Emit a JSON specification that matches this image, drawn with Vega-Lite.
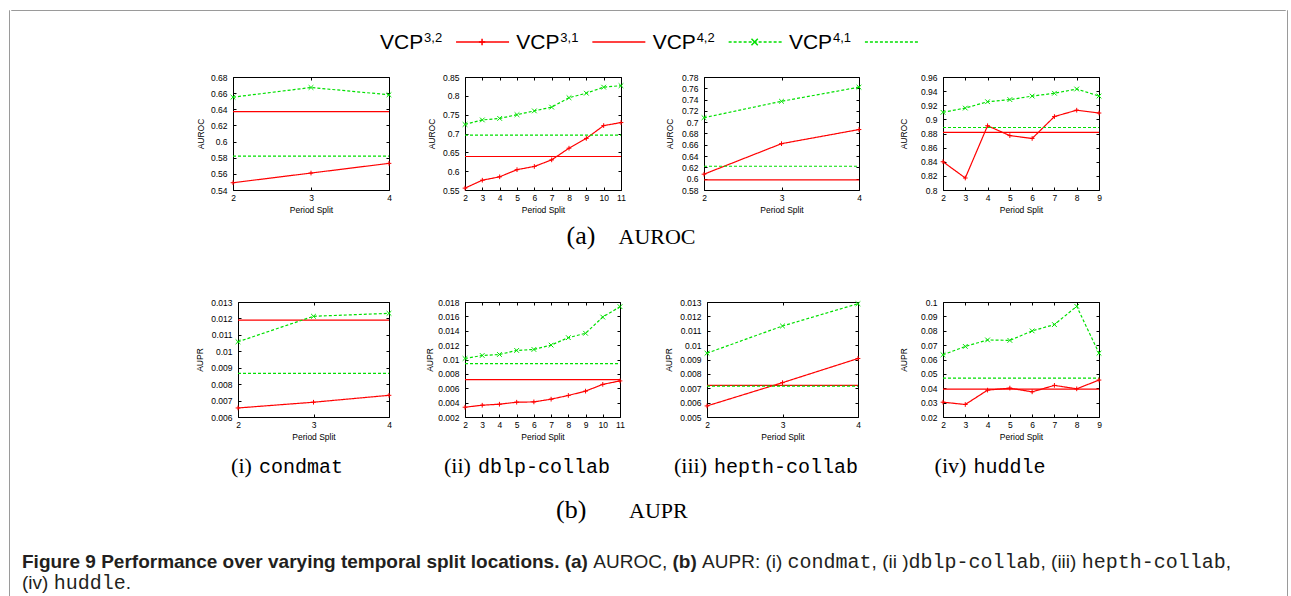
{
"$schema": "https://vega.github.io/schema/vega-lite/v6.json",
"background": "white",
"padding": {"left": 8, "top": 9, "right": 7, "bottom": 0},
"spacing": 0,
"config": {
  "view": {"stroke": null},
  "numberFormat": "~g",
  "axis": {"domain": false, "grid": false, "ticks": true, "tickColor": "#000", "tickSize": -3, "tickWidth": 1, "labelFont": "Liberation Sans", "labelFontSize": 8.5, "labelColor": "#000", "titleFont": "Liberation Sans", "titleFontSize": 8.5, "titleFontWeight": "normal", "titleColor": "#000", "labelOverlap": false, "labelFlush": false},
  "axisX": {"labelPadding": 6, "titlePadding": 4},
  "axisY": {"labelPadding": 9}
},
"datasets": {"d": [
{"p":"a1","series":"VCP32","s":2,"v":0.549},{"p":"a1","series":"VCP32","s":3,"v":0.561},{"p":"a1","series":"VCP32","s":4,"v":0.573},
{"p":"a1","series":"VCP31","s":2,"v":0.637},{"p":"a1","series":"VCP31","s":4,"v":0.637},
{"p":"a1","series":"VCP42","s":2,"v":0.655},{"p":"a1","series":"VCP42","s":3,"v":0.667},{"p":"a1","series":"VCP42","s":4,"v":0.658},
{"p":"a1","series":"VCP41","s":2,"v":0.582},{"p":"a1","series":"VCP41","s":4,"v":0.582},

{"p":"a2","series":"VCP32","s":2,"v":0.555},{"p":"a2","series":"VCP32","s":3,"v":0.576},{"p":"a2","series":"VCP32","s":4,"v":0.585},{"p":"a2","series":"VCP32","s":5,"v":0.604},{"p":"a2","series":"VCP32","s":6,"v":0.6125},{"p":"a2","series":"VCP32","s":7,"v":0.63},{"p":"a2","series":"VCP32","s":8,"v":0.661},{"p":"a2","series":"VCP32","s":9,"v":0.687},{"p":"a2","series":"VCP32","s":10,"v":0.721},{"p":"a2","series":"VCP32","s":11,"v":0.729},
{"p":"a2","series":"VCP31","s":2,"v":0.639},{"p":"a2","series":"VCP31","s":11,"v":0.639},
{"p":"a2","series":"VCP42","s":2,"v":0.724},{"p":"a2","series":"VCP42","s":3,"v":0.736},{"p":"a2","series":"VCP42","s":4,"v":0.74},{"p":"a2","series":"VCP42","s":5,"v":0.75},{"p":"a2","series":"VCP42","s":6,"v":0.76},{"p":"a2","series":"VCP42","s":7,"v":0.77},{"p":"a2","series":"VCP42","s":8,"v":0.795},{"p":"a2","series":"VCP42","s":9,"v":0.807},{"p":"a2","series":"VCP42","s":10,"v":0.823},{"p":"a2","series":"VCP42","s":11,"v":0.827},
{"p":"a2","series":"VCP41","s":2,"v":0.6955},{"p":"a2","series":"VCP41","s":11,"v":0.6955},

{"p":"a3","series":"VCP32","s":2,"v":0.608},{"p":"a3","series":"VCP32","s":3,"v":0.662},{"p":"a3","series":"VCP32","s":4,"v":0.687},
{"p":"a3","series":"VCP31","s":2,"v":0.598},{"p":"a3","series":"VCP31","s":4,"v":0.598},
{"p":"a3","series":"VCP42","s":2,"v":0.708},{"p":"a3","series":"VCP42","s":3,"v":0.737},{"p":"a3","series":"VCP42","s":4,"v":0.762},
{"p":"a3","series":"VCP41","s":2,"v":0.622},{"p":"a3","series":"VCP41","s":4,"v":0.622},

{"p":"a4","series":"VCP32","s":2,"v":0.84},{"p":"a4","series":"VCP32","s":3,"v":0.817},{"p":"a4","series":"VCP32","s":4,"v":0.891},{"p":"a4","series":"VCP32","s":5,"v":0.877},{"p":"a4","series":"VCP32","s":6,"v":0.873},{"p":"a4","series":"VCP32","s":7,"v":0.904},{"p":"a4","series":"VCP32","s":8,"v":0.913},{"p":"a4","series":"VCP32","s":9,"v":0.909},
{"p":"a4","series":"VCP31","s":2,"v":0.8815},{"p":"a4","series":"VCP31","s":9,"v":0.8815},
{"p":"a4","series":"VCP42","s":2,"v":0.91},{"p":"a4","series":"VCP42","s":3,"v":0.916},{"p":"a4","series":"VCP42","s":4,"v":0.925},{"p":"a4","series":"VCP42","s":5,"v":0.928},{"p":"a4","series":"VCP42","s":6,"v":0.933},{"p":"a4","series":"VCP42","s":7,"v":0.937},{"p":"a4","series":"VCP42","s":8,"v":0.943},{"p":"a4","series":"VCP42","s":9,"v":0.933},
{"p":"a4","series":"VCP41","s":2,"v":0.8885},{"p":"a4","series":"VCP41","s":9,"v":0.8885},

{"p":"b1","series":"VCP32","s":2,"v":0.00655},{"p":"b1","series":"VCP32","s":3,"v":0.0069},{"p":"b1","series":"VCP32","s":4,"v":0.00732},
{"p":"b1","series":"VCP31","s":2,"v":0.0119},{"p":"b1","series":"VCP31","s":4,"v":0.0119},
{"p":"b1","series":"VCP42","s":2,"v":0.01058},{"p":"b1","series":"VCP42","s":3,"v":0.01213},{"p":"b1","series":"VCP42","s":4,"v":0.01231},
{"p":"b1","series":"VCP41","s":2,"v":0.00865},{"p":"b1","series":"VCP41","s":4,"v":0.00865},

{"p":"b2","series":"VCP32","s":2,"v":0.00336},{"p":"b2","series":"VCP32","s":3,"v":0.00364},{"p":"b2","series":"VCP32","s":4,"v":0.00378},{"p":"b2","series":"VCP32","s":5,"v":0.00406},{"p":"b2","series":"VCP32","s":6,"v":0.0041},{"p":"b2","series":"VCP32","s":7,"v":0.00448},{"p":"b2","series":"VCP32","s":8,"v":0.005},{"p":"b2","series":"VCP32","s":9,"v":0.0056},{"p":"b2","series":"VCP32","s":10,"v":0.00654},{"p":"b2","series":"VCP32","s":11,"v":0.00702},
{"p":"b2","series":"VCP31","s":2,"v":0.0072},{"p":"b2","series":"VCP31","s":11,"v":0.0072},
{"p":"b2","series":"VCP42","s":2,"v":0.01014},{"p":"b2","series":"VCP42","s":3,"v":0.01056},{"p":"b2","series":"VCP42","s":4,"v":0.0107},{"p":"b2","series":"VCP42","s":5,"v":0.01126},{"p":"b2","series":"VCP42","s":6,"v":0.0114},{"p":"b2","series":"VCP42","s":7,"v":0.012},{"p":"b2","series":"VCP42","s":8,"v":0.01304},{"p":"b2","series":"VCP42","s":9,"v":0.01365},{"p":"b2","series":"VCP42","s":10,"v":0.0159},{"p":"b2","series":"VCP42","s":11,"v":0.01735},
{"p":"b2","series":"VCP41","s":2,"v":0.00944},{"p":"b2","series":"VCP41","s":11,"v":0.00944},

{"p":"b3","series":"VCP32","s":2,"v":0.00577},{"p":"b3","series":"VCP32","s":3,"v":0.00739},{"p":"b3","series":"VCP32","s":4,"v":0.00907},
{"p":"b3","series":"VCP31","s":2,"v":0.0072},{"p":"b3","series":"VCP31","s":4,"v":0.0072},
{"p":"b3","series":"VCP42","s":2,"v":0.00944},{"p":"b3","series":"VCP42","s":3,"v":0.01133},{"p":"b3","series":"VCP42","s":4,"v":0.01288},
{"p":"b3","series":"VCP41","s":2,"v":0.00715},{"p":"b3","series":"VCP41","s":4,"v":0.00715},

{"p":"b4","series":"VCP32","s":2,"v":0.0303},{"p":"b4","series":"VCP32","s":3,"v":0.0287},{"p":"b4","series":"VCP32","s":4,"v":0.0387},{"p":"b4","series":"VCP32","s":5,"v":0.0401},{"p":"b4","series":"VCP32","s":6,"v":0.0375},{"p":"b4","series":"VCP32","s":7,"v":0.042},{"p":"b4","series":"VCP32","s":8,"v":0.0396},{"p":"b4","series":"VCP32","s":9,"v":0.0457},
{"p":"b4","series":"VCP31","s":2,"v":0.0394},{"p":"b4","series":"VCP31","s":9,"v":0.0394},
{"p":"b4","series":"VCP42","s":2,"v":0.0633},{"p":"b4","series":"VCP42","s":3,"v":0.0691},{"p":"b4","series":"VCP42","s":4,"v":0.0736},{"p":"b4","series":"VCP42","s":5,"v":0.0733},{"p":"b4","series":"VCP42","s":6,"v":0.0799},{"p":"b4","series":"VCP42","s":7,"v":0.0843},{"p":"b4","series":"VCP42","s":8,"v":0.097},{"p":"b4","series":"VCP42","s":9,"v":0.0644},
{"p":"b4","series":"VCP41","s":2,"v":0.0471},{"p":"b4","series":"VCP41","s":9,"v":0.0471}
]},
"hconcat": [
{"width": 0.01, "height": 587, "view": {"stroke": "#9a9a9a", "strokeWidth": 1}, "data": {"values": []}, "mark": "text", "encoding": {"text": {"field": "t", "type": "nominal"}}},
{"spacing": 0, "vconcat": [
{"width": 1274, "height": 0.01, "view": {"stroke": "#9a9a9a", "strokeWidth": 1}, "data": {"values": []}, "mark": "text", "encoding": {"text": {"field": "t", "type": "nominal"}}},
{"width": 1274, "height": 61,
 "data": {"values": [{"k":0,"name":"VCP","sup":"3,2","series":"VCP32"},{"k":1,"name":"VCP","sup":"3,1","series":"VCP31"},{"k":2,"name":"VCP","sup":"4,2","series":"VCP42"},{"k":3,"name":"VCP","sup":"4,1","series":"VCP41"}]},
 "encoding": {"x": {"field": "k", "type": "quantitative", "scale": {"domain": [-2.708, 6.64], "nice": false, "zero": false}, "axis": null}},
 "layer": [
  {"mark": {"type": "text", "align": "left", "baseline": "alphabetic", "dy": 7.5, "font": "Liberation Sans", "fontSize": 21, "color": "#000"}, "encoding": {"text": {"field": "name"}}},
  {"mark": {"type": "text", "align": "left", "baseline": "alphabetic", "dx": 44, "dy": 0.5, "font": "Liberation Sans", "fontSize": 13, "color": "#000"}, "encoding": {"text": {"field": "sup"}}},
  {"mark": {"type": "rule", "xOffset": 76, "x2Offset": 129, "yOffset": 0.5, "strokeWidth": 1.3}, "encoding": {"x2": {"field": "k"},
    "color": {"field": "series", "type": "nominal", "scale": {"domain": ["VCP32","VCP31","VCP42","VCP41"], "range": ["#ff0000","#ff0000","#00e000","#00e000"]}, "legend": null},
    "strokeDash": {"field": "series", "type": "nominal", "scale": {"domain": ["VCP32","VCP31","VCP42","VCP41"], "range": [[1,0],[1,0],[3,2],[3,2]]}, "legend": null}}},
  {"transform": [{"filter": "datum.series === 'VCP32' || datum.series === 'VCP42'"}],
   "mark": {"type": "point", "filled": false, "size": 40, "strokeWidth": 1.5, "opacity": 1, "xOffset": 102, "yOffset": 0.5},
   "encoding": {"color": {"field": "series", "type": "nominal", "scale": {"domain": ["VCP32","VCP31","VCP42","VCP41"], "range": ["#ff0000","#ff0000","#00e000","#00e000"]}, "legend": null},
     "shape": {"field": "series", "type": "nominal", "scale": {"domain": ["VCP32","VCP42"], "range": ["M-1,0L1,0M0,-1L0,1","M-1,-1L1,1M-1,1L1,-1"]}, "legend": null}}}
 ]},
{"spacing": 0, "hconcat": [
 {"width": 183.75, "height": 1, "data": {"values": []}, "mark": "text", "encoding": {"text": {"field": "t", "type": "nominal"}}},
 {"width": 156, "height": 113, "view": {"stroke": "#000", "strokeWidth": 1}, "data": {"name": "d"}, "transform": [{"filter": "datum.p === 'a1'"}],
  "layer": [
   {"mark": {"type": "line", "strokeWidth": 1.2}, "encoding": {
     "x": {"field": "s", "type": "quantitative", "scale": {"domain": [2,4], "nice": false, "zero": false}, "axis": {"values": [2,3,4], "title": "Period Split"}},
     "y": {"field": "v", "type": "quantitative", "scale": {"domain": [0.54,0.68], "nice": false, "zero": false}, "axis": {"values": [0.54,0.56,0.58,0.6,0.62,0.64,0.66,0.68], "title": "AUROC", "titlePadding": 5}},
     "color": {"field": "series", "type": "nominal", "scale": {"domain": ["VCP32","VCP31","VCP42","VCP41"], "range": ["#ff0000","#ff0000","#00e000","#00e000"]}, "legend": null},
     "strokeDash": {"field": "series", "type": "nominal", "scale": {"domain": ["VCP32","VCP31","VCP42","VCP41"], "range": [[1,0],[1,0],[3,2],[3,2]]}, "legend": null}}},
   {"transform": [{"filter": "datum.series === 'VCP32' || datum.series === 'VCP42'"}], "mark": {"type": "point", "filled": false, "size": 22, "strokeWidth": 1, "opacity": 1}, "encoding": {
     "x": {"field": "s", "type": "quantitative", "axis": {"orient": "top", "values": [2,3,4], "labels": false, "title": null}},
     "y": {"field": "v", "type": "quantitative", "axis": {"orient": "right", "values": [0.54,0.56,0.58,0.6,0.62,0.64,0.66,0.68], "labels": false, "title": null}},
     "color": {"field": "series", "type": "nominal", "scale": {"domain": ["VCP32","VCP31","VCP42","VCP41"], "range": ["#ff0000","#ff0000","#00e000","#00e000"]}, "legend": null},
     "shape": {"field": "series", "type": "nominal", "scale": {"domain": ["VCP32","VCP42"], "range": ["M-1,0L1,0M0,-1L0,1","M-1,-1L1,1M-1,1L1,-1"]}, "legend": null}}}
  ], "resolve": {"axis": {"x": "independent", "y": "independent"}}},
 {"width": 31.35, "height": 1, "data": {"values": []}, "mark": "text", "encoding": {"text": {"field": "t", "type": "nominal"}}},
 {"width": 156, "height": 113, "view": {"stroke": "#000", "strokeWidth": 1}, "data": {"name": "d"}, "transform": [{"filter": "datum.p === 'a2'"}],
  "layer": [
   {"mark": {"type": "line", "strokeWidth": 1.2}, "encoding": {
     "x": {"field": "s", "type": "quantitative", "scale": {"domain": [2,11], "nice": false, "zero": false}, "axis": {"values": [2,3,4,5,6,7,8,9,10,11], "title": "Period Split"}},
     "y": {"field": "v", "type": "quantitative", "scale": {"domain": [0.55,0.85], "nice": false, "zero": false}, "axis": {"values": [0.55,0.6,0.65,0.7,0.75,0.8,0.85], "title": "AUROC", "titlePadding": 6}},
     "color": {"field": "series", "type": "nominal", "scale": {"domain": ["VCP32","VCP31","VCP42","VCP41"], "range": ["#ff0000","#ff0000","#00e000","#00e000"]}, "legend": null},
     "strokeDash": {"field": "series", "type": "nominal", "scale": {"domain": ["VCP32","VCP31","VCP42","VCP41"], "range": [[1,0],[1,0],[3,2],[3,2]]}, "legend": null}}},
   {"transform": [{"filter": "datum.series === 'VCP32' || datum.series === 'VCP42'"}], "mark": {"type": "point", "filled": false, "size": 22, "strokeWidth": 1, "opacity": 1}, "encoding": {
     "x": {"field": "s", "type": "quantitative", "axis": {"orient": "top", "values": [2,3,4,5,6,7,8,9,10,11], "labels": false, "title": null}},
     "y": {"field": "v", "type": "quantitative", "axis": {"orient": "right", "values": [0.55,0.6,0.65,0.7,0.75,0.8,0.85], "labels": false, "title": null}},
     "color": {"field": "series", "type": "nominal", "scale": {"domain": ["VCP32","VCP31","VCP42","VCP41"], "range": ["#ff0000","#ff0000","#00e000","#00e000"]}, "legend": null},
     "shape": {"field": "series", "type": "nominal", "scale": {"domain": ["VCP32","VCP42"], "range": ["M-1,0L1,0M0,-1L0,1","M-1,-1L1,1M-1,1L1,-1"]}, "legend": null}}}
  ], "resolve": {"axis": {"x": "independent", "y": "independent"}}},
 {"width": 38.8, "height": 1, "data": {"values": []}, "mark": "text", "encoding": {"text": {"field": "t", "type": "nominal"}}},
 {"width": 155, "height": 113, "view": {"stroke": "#000", "strokeWidth": 1}, "data": {"name": "d"}, "transform": [{"filter": "datum.p === 'a3'"}],
  "layer": [
   {"mark": {"type": "line", "strokeWidth": 1.2}, "encoding": {
     "x": {"field": "s", "type": "quantitative", "scale": {"domain": [2,4], "nice": false, "zero": false}, "axis": {"values": [2,3,4], "title": "Period Split"}},
     "y": {"field": "v", "type": "quantitative", "scale": {"domain": [0.58,0.78], "nice": false, "zero": false}, "axis": {"values": [0.58,0.6,0.62,0.64,0.66,0.68,0.7,0.72,0.74,0.76,0.78], "title": "AUROC", "titlePadding": 6.5}},
     "color": {"field": "series", "type": "nominal", "scale": {"domain": ["VCP32","VCP31","VCP42","VCP41"], "range": ["#ff0000","#ff0000","#00e000","#00e000"]}, "legend": null},
     "strokeDash": {"field": "series", "type": "nominal", "scale": {"domain": ["VCP32","VCP31","VCP42","VCP41"], "range": [[1,0],[1,0],[3,2],[3,2]]}, "legend": null}}},
   {"transform": [{"filter": "datum.series === 'VCP32' || datum.series === 'VCP42'"}], "mark": {"type": "point", "filled": false, "size": 22, "strokeWidth": 1, "opacity": 1}, "encoding": {
     "x": {"field": "s", "type": "quantitative", "axis": {"orient": "top", "values": [2,3,4], "labels": false, "title": null}},
     "y": {"field": "v", "type": "quantitative", "axis": {"orient": "right", "values": [0.58,0.6,0.62,0.64,0.66,0.68,0.7,0.72,0.74,0.76,0.78], "labels": false, "title": null}},
     "color": {"field": "series", "type": "nominal", "scale": {"domain": ["VCP32","VCP31","VCP42","VCP41"], "range": ["#ff0000","#ff0000","#00e000","#00e000"]}, "legend": null},
     "shape": {"field": "series", "type": "nominal", "scale": {"domain": ["VCP32","VCP42"], "range": ["M-1,0L1,0M0,-1L0,1","M-1,-1L1,1M-1,1L1,-1"]}, "legend": null}}}
  ], "resolve": {"axis": {"x": "independent", "y": "independent"}}},
 {"width": 33.85, "height": 1, "data": {"values": []}, "mark": "text", "encoding": {"text": {"field": "t", "type": "nominal"}}},
 {"width": 156, "height": 113, "view": {"stroke": "#000", "strokeWidth": 1}, "data": {"name": "d"}, "transform": [{"filter": "datum.p === 'a4'"}],
  "layer": [
   {"mark": {"type": "line", "strokeWidth": 1.2}, "encoding": {
     "x": {"field": "s", "type": "quantitative", "scale": {"domain": [2,9], "nice": false, "zero": false}, "axis": {"values": [2,3,4,5,6,7,8,9], "title": "Period Split"}},
     "y": {"field": "v", "type": "quantitative", "scale": {"domain": [0.8,0.96], "nice": false, "zero": false}, "axis": {"values": [0.8,0.82,0.84,0.86,0.88,0.9,0.92,0.94,0.96], "title": "AUROC", "titlePadding": 12}},
     "color": {"field": "series", "type": "nominal", "scale": {"domain": ["VCP32","VCP31","VCP42","VCP41"], "range": ["#ff0000","#ff0000","#00e000","#00e000"]}, "legend": null},
     "strokeDash": {"field": "series", "type": "nominal", "scale": {"domain": ["VCP32","VCP31","VCP42","VCP41"], "range": [[1,0],[1,0],[3,2],[3,2]]}, "legend": null}}},
   {"transform": [{"filter": "datum.series === 'VCP32' || datum.series === 'VCP42'"}], "mark": {"type": "point", "filled": false, "size": 22, "strokeWidth": 1, "opacity": 1}, "encoding": {
     "x": {"field": "s", "type": "quantitative", "axis": {"orient": "top", "values": [2,3,4,5,6,7,8,9], "labels": false, "title": null}},
     "y": {"field": "v", "type": "quantitative", "axis": {"orient": "right", "values": [0.8,0.82,0.84,0.86,0.88,0.9,0.92,0.94,0.96], "labels": false, "title": null}},
     "color": {"field": "series", "type": "nominal", "scale": {"domain": ["VCP32","VCP31","VCP42","VCP41"], "range": ["#ff0000","#ff0000","#00e000","#00e000"]}, "legend": null},
     "shape": {"field": "series", "type": "nominal", "scale": {"domain": ["VCP32","VCP42"], "range": ["M-1,0L1,0M0,-1L0,1","M-1,-1L1,1M-1,1L1,-1"]}, "legend": null}}}
  ], "resolve": {"axis": {"x": "independent", "y": "independent"}}}
]},
{"width": 1274, "height": 81.5, "data": {"values": [{"a": "(a)", "t": "AUROC"}]},
 "layer": [
  {"mark": {"type": "text", "align": "left", "baseline": "alphabetic", "dx": -81.5, "dy": -12, "font": "Liberation Serif", "fontSize": 26, "color": "#000"}, "encoding": {"text": {"field": "a"}}},
  {"mark": {"type": "text", "align": "left", "baseline": "alphabetic", "dx": -29.5, "dy": -12, "font": "Liberation Serif", "fontSize": 22, "color": "#000"}, "encoding": {"text": {"field": "t"}}}
 ]},
{"spacing": 0, "hconcat": [
 {"width": 182.75, "height": 1, "data": {"values": []}, "mark": "text", "encoding": {"text": {"field": "t", "type": "nominal"}}},
 {"width": 151, "height": 115, "view": {"stroke": "#000", "strokeWidth": 1}, "data": {"name": "d"}, "transform": [{"filter": "datum.p === 'b1'"}],
  "layer": [
   {"mark": {"type": "line", "strokeWidth": 1.2}, "encoding": {
     "x": {"field": "s", "type": "quantitative", "scale": {"domain": [2,4], "nice": false, "zero": false}, "axis": {"values": [2,3,4], "title": "Period Split"}},
     "y": {"field": "v", "type": "quantitative", "scale": {"domain": [0.006,0.013], "nice": false, "zero": false}, "axis": {"values": [0.006,0.007,0.008,0.009,0.01,0.011,0.012,0.013], "title": "AUPR", "titlePadding": 6.5}},
     "color": {"field": "series", "type": "nominal", "scale": {"domain": ["VCP32","VCP31","VCP42","VCP41"], "range": ["#ff0000","#ff0000","#00e000","#00e000"]}, "legend": null},
     "strokeDash": {"field": "series", "type": "nominal", "scale": {"domain": ["VCP32","VCP31","VCP42","VCP41"], "range": [[1,0],[1,0],[3,2],[3,2]]}, "legend": null}}},
   {"transform": [{"filter": "datum.series === 'VCP32' || datum.series === 'VCP42'"}], "mark": {"type": "point", "filled": false, "size": 22, "strokeWidth": 1, "opacity": 1}, "encoding": {
     "x": {"field": "s", "type": "quantitative", "axis": {"orient": "top", "values": [2,3,4], "labels": false, "title": null}},
     "y": {"field": "v", "type": "quantitative", "axis": {"orient": "right", "values": [0.006,0.007,0.008,0.009,0.01,0.011,0.012,0.013], "labels": false, "title": null}},
     "color": {"field": "series", "type": "nominal", "scale": {"domain": ["VCP32","VCP31","VCP42","VCP41"], "range": ["#ff0000","#ff0000","#00e000","#00e000"]}, "legend": null},
     "shape": {"field": "series", "type": "nominal", "scale": {"domain": ["VCP32","VCP42"], "range": ["M-1,0L1,0M0,-1L0,1","M-1,-1L1,1M-1,1L1,-1"]}, "legend": null}}}
  ], "resolve": {"axis": {"x": "independent", "y": "independent"}}},
 {"width": 29.35, "height": 1, "data": {"values": []}, "mark": "text", "encoding": {"text": {"field": "t", "type": "nominal"}}},
 {"width": 155, "height": 115, "view": {"stroke": "#000", "strokeWidth": 1}, "data": {"name": "d"}, "transform": [{"filter": "datum.p === 'b2'"}],
  "layer": [
   {"mark": {"type": "line", "strokeWidth": 1.2}, "encoding": {
     "x": {"field": "s", "type": "quantitative", "scale": {"domain": [2,11], "nice": false, "zero": false}, "axis": {"values": [2,3,4,5,6,7,8,9,10,11], "title": "Period Split"}},
     "y": {"field": "v", "type": "quantitative", "scale": {"domain": [0.002,0.018], "nice": false, "zero": false}, "axis": {"values": [0.002,0.004,0.006,0.008,0.01,0.012,0.014,0.016,0.018], "title": "AUPR", "titlePadding": 3.5}},
     "color": {"field": "series", "type": "nominal", "scale": {"domain": ["VCP32","VCP31","VCP42","VCP41"], "range": ["#ff0000","#ff0000","#00e000","#00e000"]}, "legend": null},
     "strokeDash": {"field": "series", "type": "nominal", "scale": {"domain": ["VCP32","VCP31","VCP42","VCP41"], "range": [[1,0],[1,0],[3,2],[3,2]]}, "legend": null}}},
   {"transform": [{"filter": "datum.series === 'VCP32' || datum.series === 'VCP42'"}], "mark": {"type": "point", "filled": false, "size": 22, "strokeWidth": 1, "opacity": 1}, "encoding": {
     "x": {"field": "s", "type": "quantitative", "axis": {"orient": "top", "values": [2,3,4,5,6,7,8,9,10,11], "labels": false, "title": null}},
     "y": {"field": "v", "type": "quantitative", "axis": {"orient": "right", "values": [0.002,0.004,0.006,0.008,0.01,0.012,0.014,0.016,0.018], "labels": false, "title": null}},
     "color": {"field": "series", "type": "nominal", "scale": {"domain": ["VCP32","VCP31","VCP42","VCP41"], "range": ["#ff0000","#ff0000","#00e000","#00e000"]}, "legend": null},
     "shape": {"field": "series", "type": "nominal", "scale": {"domain": ["VCP32","VCP42"], "range": ["M-1,0L1,0M0,-1L0,1","M-1,-1L1,1M-1,1L1,-1"]}, "legend": null}}}
  ], "resolve": {"axis": {"x": "independent", "y": "independent"}}},
 {"width": 37.05, "height": 1, "data": {"values": []}, "mark": "text", "encoding": {"text": {"field": "t", "type": "nominal"}}},
 {"width": 151, "height": 115, "view": {"stroke": "#000", "strokeWidth": 1}, "data": {"name": "d"}, "transform": [{"filter": "datum.p === 'b3'"}],
  "layer": [
   {"mark": {"type": "line", "strokeWidth": 1.2}, "encoding": {
     "x": {"field": "s", "type": "quantitative", "scale": {"domain": [2,4], "nice": false, "zero": false}, "axis": {"values": [2,3,4], "title": "Period Split"}},
     "y": {"field": "v", "type": "quantitative", "scale": {"domain": [0.005,0.013], "nice": false, "zero": false}, "axis": {"values": [0.005,0.006,0.007,0.008,0.009,0.01,0.011,0.012,0.013], "title": "AUPR", "titlePadding": 6.5}},
     "color": {"field": "series", "type": "nominal", "scale": {"domain": ["VCP32","VCP31","VCP42","VCP41"], "range": ["#ff0000","#ff0000","#00e000","#00e000"]}, "legend": null},
     "strokeDash": {"field": "series", "type": "nominal", "scale": {"domain": ["VCP32","VCP31","VCP42","VCP41"], "range": [[1,0],[1,0],[3,2],[3,2]]}, "legend": null}}},
   {"transform": [{"filter": "datum.series === 'VCP32' || datum.series === 'VCP42'"}], "mark": {"type": "point", "filled": false, "size": 22, "strokeWidth": 1, "opacity": 1}, "encoding": {
     "x": {"field": "s", "type": "quantitative", "axis": {"orient": "top", "values": [2,3,4], "labels": false, "title": null}},
     "y": {"field": "v", "type": "quantitative", "axis": {"orient": "right", "values": [0.005,0.006,0.007,0.008,0.009,0.01,0.011,0.012,0.013], "labels": false, "title": null}},
     "color": {"field": "series", "type": "nominal", "scale": {"domain": ["VCP32","VCP31","VCP42","VCP41"], "range": ["#ff0000","#ff0000","#00e000","#00e000"]}, "legend": null},
     "shape": {"field": "series", "type": "nominal", "scale": {"domain": ["VCP32","VCP42"], "range": ["M-1,0L1,0M0,-1L0,1","M-1,-1L1,1M-1,1L1,-1"]}, "legend": null}}}
  ], "resolve": {"axis": {"x": "independent", "y": "independent"}}},
 {"width": 34.35, "height": 1, "data": {"values": []}, "mark": "text", "encoding": {"text": {"field": "t", "type": "nominal"}}},
 {"width": 156, "height": 115, "view": {"stroke": "#000", "strokeWidth": 1}, "data": {"name": "d"}, "transform": [{"filter": "datum.p === 'b4'"}],
  "layer": [
   {"mark": {"type": "line", "strokeWidth": 1.2}, "encoding": {
     "x": {"field": "s", "type": "quantitative", "scale": {"domain": [2,9], "nice": false, "zero": false}, "axis": {"values": [2,3,4,5,6,7,8,9], "title": "Period Split"}},
     "y": {"field": "v", "type": "quantitative", "scale": {"domain": [0.02,0.1], "nice": false, "zero": false}, "axis": {"values": [0.02,0.03,0.04,0.05,0.06,0.07,0.08,0.09,0.1], "title": "AUPR", "titlePadding": 12}},
     "color": {"field": "series", "type": "nominal", "scale": {"domain": ["VCP32","VCP31","VCP42","VCP41"], "range": ["#ff0000","#ff0000","#00e000","#00e000"]}, "legend": null},
     "strokeDash": {"field": "series", "type": "nominal", "scale": {"domain": ["VCP32","VCP31","VCP42","VCP41"], "range": [[1,0],[1,0],[3,2],[3,2]]}, "legend": null}}},
   {"transform": [{"filter": "datum.series === 'VCP32' || datum.series === 'VCP42'"}], "mark": {"type": "point", "filled": false, "size": 22, "strokeWidth": 1, "opacity": 1}, "encoding": {
     "x": {"field": "s", "type": "quantitative", "axis": {"orient": "top", "values": [2,3,4,5,6,7,8,9], "labels": false, "title": null}},
     "y": {"field": "v", "type": "quantitative", "axis": {"orient": "right", "values": [0.02,0.03,0.04,0.05,0.06,0.07,0.08,0.09,0.1], "labels": false, "title": null}},
     "color": {"field": "series", "type": "nominal", "scale": {"domain": ["VCP32","VCP31","VCP42","VCP41"], "range": ["#ff0000","#ff0000","#00e000","#00e000"]}, "legend": null},
     "shape": {"field": "series", "type": "nominal", "scale": {"domain": ["VCP32","VCP42"], "range": ["M-1,0L1,0M0,-1L0,1","M-1,-1L1,1M-1,1L1,-1"]}, "legend": null}}}
  ], "resolve": {"axis": {"x": "independent", "y": "independent"}}}
]},
{"width": 1274, "height": 95.5, "data": {"values": [{"l1": "(i)", "n1": "condmat", "l2": "(ii)", "n2": "dblp-collab", "l3": "(iii)", "n3": "hepth-collab", "l4": "(iv)", "n4": "huddle", "b": "(b)", "t": "AUPR"}]},
 "layer": [
  {"mark": {"type": "text", "align": "left", "baseline": "alphabetic", "dx": -416.9, "dy": -16.75, "font": "Liberation Serif", "fontSize": 22, "color": "#000"}, "encoding": {"text": {"field": "l1"}}},
  {"mark": {"type": "text", "align": "left", "baseline": "alphabetic", "dx": -389.1, "dy": -16.75, "font": "Liberation Mono", "fontSize": 20, "color": "#000"}, "encoding": {"text": {"field": "n1"}}},
  {"mark": {"type": "text", "align": "left", "baseline": "alphabetic", "dx": -204, "dy": -16.75, "font": "Liberation Serif", "fontSize": 22, "color": "#000"}, "encoding": {"text": {"field": "l2"}}},
  {"mark": {"type": "text", "align": "left", "baseline": "alphabetic", "dx": -170.1, "dy": -16.75, "font": "Liberation Mono", "fontSize": 20, "color": "#000"}, "encoding": {"text": {"field": "n2"}}},
  {"mark": {"type": "text", "align": "left", "baseline": "alphabetic", "dx": 26, "dy": -16.75, "font": "Liberation Serif", "fontSize": 22, "color": "#000"}, "encoding": {"text": {"field": "l3"}}},
  {"mark": {"type": "text", "align": "left", "baseline": "alphabetic", "dx": 66, "dy": -16.75, "font": "Liberation Mono", "fontSize": 20, "color": "#000"}, "encoding": {"text": {"field": "n3"}}},
  {"mark": {"type": "text", "align": "left", "baseline": "alphabetic", "dx": 286.6, "dy": -16.75, "font": "Liberation Serif", "fontSize": 22, "color": "#000"}, "encoding": {"text": {"field": "l4"}}},
  {"mark": {"type": "text", "align": "left", "baseline": "alphabetic", "dx": 325.4, "dy": -16.75, "font": "Liberation Mono", "fontSize": 20, "color": "#000"}, "encoding": {"text": {"field": "n4"}}},
  {"mark": {"type": "text", "align": "left", "baseline": "alphabetic", "dx": -92, "dy": 28.5, "font": "Liberation Serif", "fontSize": 26, "color": "#000"}, "encoding": {"text": {"field": "b"}}},
  {"mark": {"type": "text", "align": "left", "baseline": "alphabetic", "dx": -19, "dy": 28.5, "font": "Liberation Serif", "fontSize": 22, "color": "#000"}, "encoding": {"text": {"field": "t"}}}
 ]},
{"width": 1274, "height": 60, "data": {"values": [{"c1": "Figure 9 Performance over varying temporal split locations. (a)", "c2": "AUROC,", "c3": "(b)", "c4": "AUPR: (i)", "c5": "condmat", "c6": ", (ii )", "c7": "dblp-collab", "c8": ", (iii)", "c9": "hepth-collab", "c10": ",", "c11": "(iv)", "c12": "huddle", "c13": "."}]},
 "layer": [
  {"mark": {"type": "text", "align": "left", "baseline": "alphabetic", "dx": -626, "dy": 0, "font": "Liberation Sans", "fontSize": 19, "fontWeight": "bold", "color": "#231f20"}, "encoding": {"text": {"field": "c1"}}},
  {"mark": {"type": "text", "align": "left", "baseline": "alphabetic", "dx": -54.7, "dy": 0, "font": "Liberation Sans", "fontSize": 19, "color": "#231f20"}, "encoding": {"text": {"field": "c2"}}},
  {"mark": {"type": "text", "align": "left", "baseline": "alphabetic", "dx": 24.5, "dy": 0, "font": "Liberation Sans", "fontSize": 19, "fontWeight": "bold", "color": "#231f20"}, "encoding": {"text": {"field": "c3"}}},
  {"mark": {"type": "text", "align": "left", "baseline": "alphabetic", "dx": 54.1, "dy": 0, "font": "Liberation Sans", "fontSize": 19, "color": "#231f20"}, "encoding": {"text": {"field": "c4"}}},
  {"mark": {"type": "text", "align": "left", "baseline": "alphabetic", "dx": 139.6, "dy": 0, "font": "Liberation Mono", "fontSize": 20, "color": "#231f20"}, "encoding": {"text": {"field": "c5"}}},
  {"mark": {"type": "text", "align": "left", "baseline": "alphabetic", "dx": 223.6, "dy": 0, "font": "Liberation Sans", "fontSize": 19, "color": "#231f20"}, "encoding": {"text": {"field": "c6"}}},
  {"mark": {"type": "text", "align": "left", "baseline": "alphabetic", "dx": 260.5, "dy": 0, "font": "Liberation Mono", "fontSize": 20, "color": "#231f20"}, "encoding": {"text": {"field": "c7"}}},
  {"mark": {"type": "text", "align": "left", "baseline": "alphabetic", "dx": 392.5, "dy": 0, "font": "Liberation Sans", "fontSize": 19, "color": "#231f20"}, "encoding": {"text": {"field": "c8"}}},
  {"mark": {"type": "text", "align": "left", "baseline": "alphabetic", "dx": 433.7, "dy": 0, "font": "Liberation Mono", "fontSize": 20, "color": "#231f20"}, "encoding": {"text": {"field": "c9"}}},
  {"mark": {"type": "text", "align": "left", "baseline": "alphabetic", "dx": 577.7, "dy": 0, "font": "Liberation Sans", "fontSize": 19, "color": "#231f20"}, "encoding": {"text": {"field": "c10"}}},
  {"mark": {"type": "text", "align": "left", "baseline": "alphabetic", "dx": -626, "dy": 21, "font": "Liberation Sans", "fontSize": 19, "color": "#231f20"}, "encoding": {"text": {"field": "c11"}}},
  {"mark": {"type": "text", "align": "left", "baseline": "alphabetic", "dx": -594.3, "dy": 21, "font": "Liberation Mono", "fontSize": 20, "color": "#231f20"}, "encoding": {"text": {"field": "c12"}}},
  {"mark": {"type": "text", "align": "left", "baseline": "alphabetic", "dx": -522.3, "dy": 21, "font": "Liberation Sans", "fontSize": 19, "color": "#231f20"}, "encoding": {"text": {"field": "c13"}}}
 ]}
]},
{"width": 0.01, "height": 587, "view": {"stroke": "#9a9a9a", "strokeWidth": 1}, "data": {"values": []}, "mark": "text", "encoding": {"text": {"field": "t", "type": "nominal"}}}
]
}
